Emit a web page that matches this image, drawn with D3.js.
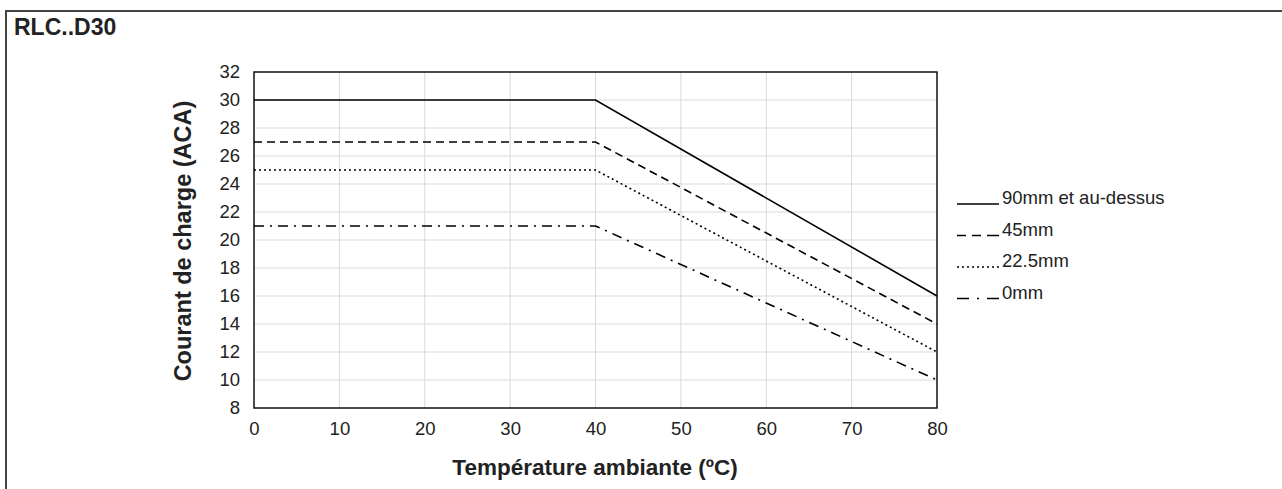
<!DOCTYPE html>
<html><head><meta charset="utf-8">
<script src="https://cdn.jsdelivr.net/npm/d3@7"></script>
<style>body{margin:0;background:#fff}svg{display:block}text{font-family:"Liberation Sans",Arial,sans-serif;fill:#222}</style>
</head><body><svg id="c" width="1282" height="489"></svg>
<script>
const temps = [0, 40, 80];
const s90 = [30, 30, 16];
const s45 = [27, 27, 14];
const s225 = [25, 25, 12];
const s0 = [21, 21, 10];
const seriesNames = ["90mm et au-dessus", "45mm", "22.5mm", "0mm"];
const dashes = [null, "8,5", "2,3", "10,6,2,6"];
const legendDashes = [null, "9,6,9,6,12", "2,3", "12,8,2,8,12"];
const xTicks = [0,10,20,30,40,50,60,70,80];
const yTicks = [8,10,12,14,16,18,20,22,24,26,28,30,32];
const series = [s90, s45, s225, s0];

const svg = d3.select("#c");
const x = d3.scaleLinear().domain([0,80]).range([254,937]);
const y = d3.scaleLinear().domain([8,32]).range([408,72]);

// outer frame (extends past right/bottom)
svg.append("rect").attr("x",6).attr("y",11).attr("width",1300).attr("height",500)
  .attr("fill","none").attr("stroke","#444").attr("stroke-width",2);

svg.append("text").attr("x",14).attr("y",35).attr("font-size",23).attr("font-weight","bold").text("RLC..D30");

// grid
svg.append("g").selectAll("line").data(xTicks.slice(1,-1)).join("line")
  .attr("x1",d=>x(d)).attr("x2",d=>x(d)).attr("y1",72).attr("y2",408)
  .attr("stroke","#d9d9d9").attr("stroke-width",1);
svg.append("g").selectAll("line").data(yTicks.slice(1,-1)).join("line")
  .attr("y1",d=>y(d)).attr("y2",d=>y(d)).attr("x1",254).attr("x2",937)
  .attr("stroke","#d9d9d9").attr("stroke-width",1);

// axes
const xa = svg.append("g").attr("transform","translate(0,408)").call(d3.axisBottom(x).tickValues(xTicks).tickSize(0).tickPadding(14));
const ya = svg.append("g").attr("transform","translate(254,0)").call(d3.axisLeft(y).tickValues(yTicks).tickSize(0).tickPadding(14));
[xa,ya].forEach(g=>{g.select(".domain").remove();g.selectAll("text").attr("font-size",18.5).attr("font-family","Liberation Sans, Arial, sans-serif").attr("fill","#222");});

// plot frame
svg.append("rect").attr("x",254).attr("y",72).attr("width",683).attr("height",336)
  .attr("fill","none").attr("stroke","#111").attr("stroke-width",1.5);

// lines
const line = d3.line().x((d,i)=>x(temps[i])).y(d=>y(d));
series.forEach((s,i)=>{
  svg.append("path").datum(s).attr("d",line).attr("fill","none").attr("stroke","#000")
    .attr("stroke-width",1.6).attr("stroke-dasharray",dashes[i]);
});

// legend
const lg = svg.append("g");
seriesNames.forEach((n,i)=>{
  const yy = 204 + i*31.5;
  lg.append("line").attr("x1",957).attr("x2",999).attr("y1",yy).attr("y2",yy)
    .attr("stroke","#000").attr("stroke-width",1.6).attr("stroke-dasharray",legendDashes[i]);
  lg.append("text").attr("x",1002).attr("y",yy).attr("font-size",18.5).text(n);
});

// axis titles
svg.append("text").attr("x",595).attr("y",475).attr("text-anchor","middle").attr("font-size",22.5).attr("font-weight","bold").text("Température ambiante (ºC)");
svg.append("text").attr("transform","translate(191,241) rotate(-90)").attr("text-anchor","middle").attr("font-size",23.5).attr("font-weight","bold").text("Courant de charge (ACA)");
</script></body></html>
